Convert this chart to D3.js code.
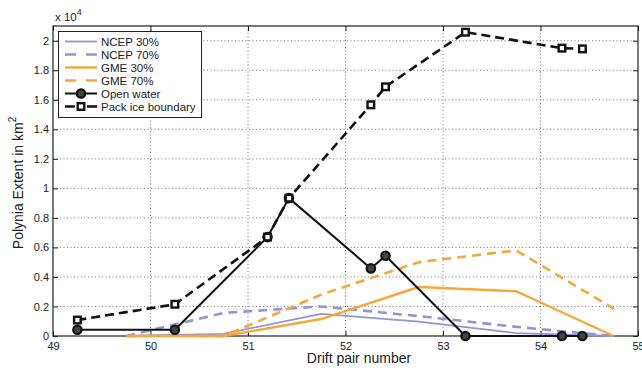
<!DOCTYPE html>
<html>
<head>
<meta charset="utf-8">
<script src="https://cdn.jsdelivr.net/npm/d3@7"></script>
<style>
body { margin: 0; background: #fff; }
svg { font-family: "Liberation Sans", Arial, Helvetica, sans-serif; }
</style>
</head>
<body>
<div id="chart"></div>
<script>
// model runs are sampled at the .75 positions
var modelX = [49.75, 50.75, 51.75, 52.75, 53.75, 54.75];
var ncep30 = [0, 150, 1500, 970, 200, 0];
var ncep70 = [0, 1560, 2000, 1350, 620, 0];
var gme30 = [0, 0, 1150, 3320, 3030, 0];
var gme70 = [0, 0, 2800, 5000, 5800, 1860];

// observed
var obsX = [49.25, 50.25, 51.2, 51.42, 52.26, 52.41, 53.23, 54.22, 54.43];
var openWater = [420, 420, 6700, 9340, 4580, 5440, 0, 0, 0];
var packIce = [1080, 2150, 6700, 9340, 15660, 16880, 20580, 19500, 19450];

var xTicks = [49, 50, 51, 52, 53, 54, 55];
var yTicks = [0, 0.2, 0.4, 0.6, 0.8, 1, 1.2, 1.4, 1.6, 1.8, 2];

var purple = '#9494d2';
var orange = '#f7a738';

var series = [
    {name: 'NCEP 30%', x: modelX, y: ncep30, color: purple, width: 1.8, dash: null, legendDash: null, marker: null},
    {name: 'NCEP 70%', x: modelX, y: ncep70, color: purple, width: 2.6, dash: '9,6', legendDash: '11,10', marker: null},
    {name: 'GME 30%', x: modelX, y: gme30, color: orange, width: 2.4, dash: null, legendDash: null, marker: null},
    {name: 'GME 70%', x: modelX, y: gme70, color: orange, width: 2.6, dash: '9,6', legendDash: '11,10', marker: null},
    {name: 'Open water', x: obsX, y: openWater, color: '#111', width: 2, dash: null, legendDash: null, marker: 'circle'},
    {name: 'Pack ice boundary', x: obsX, y: packIce, color: '#111', width: 2.6, dash: '9,5', legendDash: '10,12', marker: 'square'}
];

var width = 642, height = 370;
var plotL = 53, plotR = 638, plotT = 26, plotB = 336;

var svg = d3.select('#chart').append('svg')
    .attr('width', width)
    .attr('height', height);

var x = d3.scaleLinear().domain([49, 55]).range([plotL, plotR]);
var y = d3.scaleLinear().domain([0, 2.1]).range([plotB, plotT]); // units of 10^4 km^2

// dotted grid
svg.append('g').selectAll('line')
    .data(xTicks.slice(1, -1))
    .enter().append('line')
    .attr('x1', function(d){ return x(d); })
    .attr('x2', function(d){ return x(d); })
    .attr('y1', plotT).attr('y2', plotB)
    .attr('stroke', '#555').attr('stroke-width', 0.8)
    .attr('stroke-dasharray', '1,2.5');

svg.append('g').selectAll('line')
    .data(yTicks.slice(1))
    .enter().append('line')
    .attr('x1', plotL).attr('x2', plotR)
    .attr('y1', function(d){ return y(d); })
    .attr('y2', function(d){ return y(d); })
    .attr('stroke', '#555').attr('stroke-width', 0.8)
    .attr('stroke-dasharray', '1,2.5');

// axes, ticks pointing inward like matlab
var axB = svg.append('g').attr('transform', 'translate(0,' + plotB + ')')
    .call(d3.axisBottom(x).tickValues(xTicks).tickSizeInner(-5).tickSizeOuter(0).tickPadding(6)
        .tickFormat(d3.format('d')));
var axT = svg.append('g').attr('transform', 'translate(0,' + plotT + ')')
    .call(d3.axisTop(x).tickValues(xTicks).tickSizeInner(-5).tickSizeOuter(0).tickFormat(''));
var axL = svg.append('g').attr('transform', 'translate(' + plotL + ',0)')
    .call(d3.axisLeft(y).tickValues(yTicks).tickSizeInner(-5).tickSizeOuter(0).tickPadding(4)
        .tickFormat(function(d){ return d3.format('~g')(d); }));
var axR = svg.append('g').attr('transform', 'translate(' + plotR + ',0)')
    .call(d3.axisRight(y).tickValues(yTicks).tickSizeInner(-5).tickSizeOuter(0).tickFormat(''));

[axB, axT, axL, axR].forEach(function(ax){
    ax.select('.domain').remove();
    ax.selectAll('line').attr('stroke', '#222');
    ax.selectAll('text').attr('font-size', '11px').attr('fill', '#222')
        .attr('font-family', '"Liberation Sans", Arial, sans-serif');
});
axL.selectAll('text').attr('x', -4);

svg.append('rect')
    .attr('x', plotL).attr('y', plotT)
    .attr('width', plotR - plotL).attr('height', plotB - plotT)
    .attr('fill', 'none').attr('stroke', '#222').attr('stroke-width', 1.2);

// series lines
var line = d3.line()
    .x(function(d){ return x(d[0]); })
    .y(function(d){ return y(d[1] / 1e4); });

series.forEach(function(s){
    var pts = s.x.map(function(v, i){ return [v, s.y[i]]; });
    svg.append('path')
        .datum(pts)
        .attr('d', line)
        .attr('fill', 'none')
        .attr('stroke', s.color)
        .attr('stroke-width', s.width)
        .attr('stroke-dasharray', s.dash)
        .attr('stroke-linejoin', 'round');
    if(s.marker){
        drawMarkers(svg, s.marker, pts.map(function(p){ return [x(p[0]), y(p[1] / 1e4)]; }));
    }
});

function drawMarkers(g, type, pts){
    pts.forEach(function(p){
        if(type === 'circle'){
            g.append('circle')
                .attr('cx', p[0]).attr('cy', p[1]).attr('r', 4.2)
                .attr('fill', '#444').attr('stroke', '#111').attr('stroke-width', 2.2);
        }else{
            g.append('rect')
                .attr('x', p[0] - 3.3).attr('y', p[1] - 3.3)
                .attr('width', 6.6).attr('height', 6.6)
                .attr('fill', '#fff').attr('stroke', '#111').attr('stroke-width', 2.4);
        }
    });
}

// multiplier label
var mult = svg.append('text')
    .attr('x', 55).attr('y', 21)
    .attr('font-size', '11.5px').attr('fill', '#222');
mult.append('tspan').text('x 10');
mult.append('tspan').attr('dy', -6).attr('font-size', '9px').text('4');

// axis titles
svg.append('text')
    .attr('x', 359).attr('y', 363)
    .attr('text-anchor', 'middle')
    .attr('font-size', '14px').attr('fill', '#222')
    .text('Drift pair number');

var yt = svg.append('text')
    .attr('transform', 'translate(23,' + 183 + ') rotate(-90)')
    .attr('text-anchor', 'middle')
    .attr('font-size', '14px').attr('fill', '#222');
yt.append('tspan').text('Polynia Extent in km');
yt.append('tspan').attr('dy', -7).attr('font-size', '10px').text('2');

// legend
var lg = svg.append('g');
lg.append('rect')
    .attr('x', 58.5).attr('y', 31.5).attr('width', 143).attr('height', 86)
    .attr('fill', '#fff').attr('stroke', '#222').attr('stroke-width', 1);

series.forEach(function(s, i){
    var ly = 41.5 + i * 13;
    lg.append('line')
        .attr('x1', 65).attr('x2', 97)
        .attr('y1', ly).attr('y2', ly)
        .attr('stroke', s.color)
        .attr('stroke-width', s.width)
        .attr('stroke-dasharray', s.legendDash);
    if(s.marker){
        drawMarkers(lg, s.marker, [[81, ly]]);
    }
    lg.append('text')
        .attr('x', 101).attr('y', ly + 4)
        .attr('font-size', '11.5px').attr('fill', '#222')
        .text(s.name);
});
</script>
</body>
</html>
